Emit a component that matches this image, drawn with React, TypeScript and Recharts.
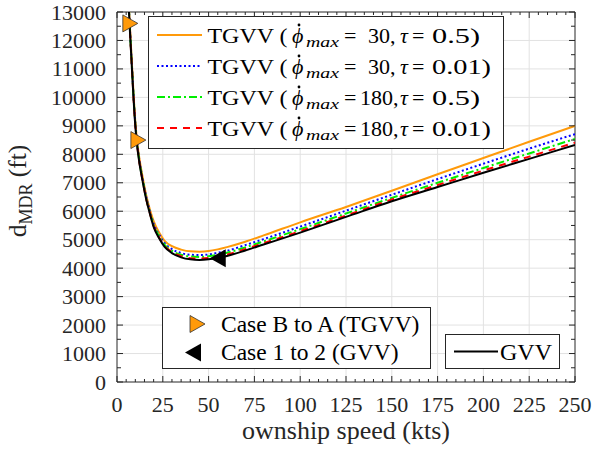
import { ComposedChart, Line, XAxis, YAxis, ReferenceLine } from 'recharts';

// ownship speed (kts)
const speed = [6, 7, 8, 9, 10, 11, 12, 14, 16, 18, 20, 23, 26, 30, 35, 40, 45, 50, 55, 60, 70, 80, 100, 125, 150, 175, 200, 225, 250];

// d_MDR (ft) per case
const tgvv30_05 = [13800, 12550, 11350, 10150, 9150, 8450, 7950, 7200, 6550, 6050, 5650, 5250, 4960, 4770, 4650, 4590, 4580, 4600, 4660, 4740, 4930, 5150, 5610, 6150, 6720, 7300, 7870, 8440, 9000];
const tgvv30_001 = [13750, 12480, 11280, 10080, 9080, 8390, 7890, 7130, 6490, 5990, 5560, 5170, 4880, 4670, 4530, 4470, 4460, 4480, 4540, 4610, 4810, 5020, 5460, 6020, 6580, 7130, 7670, 8200, 8710];
const tgvv180_05 = [13720, 12450, 11250, 10050, 9050, 8360, 7850, 7100, 6450, 5950, 5510, 5120, 4820, 4610, 4470, 4410, 4395, 4420, 4470, 4540, 4730, 4940, 5370, 5920, 6470, 7000, 7520, 8030, 8540];
const tgvv180_001 = [13700, 12420, 11220, 10020, 9020, 8330, 7820, 7070, 6420, 5920, 5480, 5080, 4780, 4570, 4420, 4350, 4340, 4360, 4410, 4480, 4670, 4880, 5300, 5850, 6410, 6920, 7430, 7920, 8410];
const gvv = [13700, 12400, 11200, 10000, 9000, 8300, 7800, 7050, 6400, 5900, 5450, 5050, 4750, 4530, 4380, 4310, 4290, 4310, 4360, 4430, 4620, 4830, 5250, 5800, 6350, 6850, 7350, 7840, 8330];

// marked cases
const caseBASpeed = [7, 11.4];
const caseBAValue = [12600, 8500];
const case12Speed = [55];
const case12Value = [4350];

// TGVV legend parts
const phiMax = ['30,', '30,', '180,', '180,'];
const tau = ['0.5)', '0.01)', '0.5)', '0.01)'];

const xMajor = [0, 25, 50, 75, 100, 125, 150, 175, 200, 225, 250];
const yMajor = [0, 1000, 2000, 3000, 4000, 5000, 6000, 7000, 8000, 9000, 10000, 11000, 12000, 13000];
const xTicks = Array.from({ length: 51 }, (_, i) => i * 5);
const yTicks = Array.from({ length: 27 }, (_, i) => i * 500);

const W = 594;
const H = 455;
const Y_AXIS_W = 117;
const X_AXIS_H = 73;
const MARGIN = { top: 12, right: 19, bottom: 0, left: 0 };
const PLOT_W = W - MARGIN.right - Y_AXIS_W;
const PLOT_H = H - MARGIN.top - X_AXIS_H;
const AXIS = '#262626';
const GRID = '#e2e2e2';
const FONT = "'Liberation Serif', 'DejaVu Serif', serif";
const ORANGE = '#ff9a0a';

// TGVV cases first, GVV drawn last (on top)
const series = [
  { key: 't30_05', values: tgvv30_05, color: ORANGE, dash: undefined },
  { key: 't30_001', values: tgvv30_001, color: '#0000ff', dash: '2 2.5' },
  { key: 't180_05', values: tgvv180_05, color: '#00ee00', dash: '8 3 2 3' },
  { key: 't180_001', values: tgvv180_001, color: '#ff0000', dash: '7 6' },
  { key: 'gvv', values: gvv, color: '#000000', dash: undefined },
];

const data = speed.map((s, i) => {
  const row: any = { speed: s };
  series.forEach((sr) => (row[sr.key] = sr.values[i]));
  return row;
});
const caseBA = caseBASpeed.map((s, i) => ({ speed: s, mark: caseBAValue[i] }));
const case12 = case12Speed.map((s, i) => ({ speed: s, mark: case12Value[i] }));

const rightTri = (cx: number, cy: number) => `M${cx - 7},${cy - 8.5} L${cx + 8},${cy} L${cx - 7},${cy + 8.5} Z`;
const leftTri = (cx: number, cy: number) => `M${cx + 8},${cy - 9} L${cx - 8},${cy} L${cx + 8},${cy + 9} Z`;

const XTick = (props: any) => {
  const { x, y, payload } = props;
  const v = payload.value;
  const major = v % 25 === 0;
  const len = major ? 6 : 3;
  return (
    <g>
      <line x1={x} x2={x} y1={y} y2={y - len} stroke={AXIS} />
      <line x1={x} x2={x} y1={y - PLOT_H} y2={y - PLOT_H + len} stroke={AXIS} />
      {major && (
        <text x={x} y={y + 30} textAnchor="middle" fontSize={22} style={{ fontFamily: FONT }} fill={AXIS}>
          {v}
        </text>
      )}
    </g>
  );
};

const YTick = (props: any) => {
  const { x, y, payload } = props;
  const v = payload.value;
  const major = v % 1000 === 0;
  const len = major ? 6 : 4;
  return (
    <g>
      <line x1={x} x2={x + len} y1={y} y2={y} stroke={AXIS} />
      <line x1={x + PLOT_W} x2={x + PLOT_W - len} y1={y} y2={y} stroke={AXIS} />
      {major && (
        <text x={x - 11} y={y + 7.5} textAnchor="end" fontSize={22} style={{ fontFamily: FONT }} fill={AXIS}>
          {v}
        </text>
      )}
    </g>
  );
};

function Legends() {
  const rows = [
    { color: ORANGE, dash: undefined },
    { color: '#0000ff', dash: '2 2.5' },
    { color: '#00ee00', dash: '8 3 2 3' },
    { color: '#ff0000', dash: '7 6' },
  ];
  return (
    <svg width={W} height={H} style={{ position: 'absolute', left: 0, top: 0, pointerEvents: 'none', fontFamily: FONT }}>
      <rect x={148.5} y={16.5} width={355} height={132} fill="#fff" stroke={AXIS} />
      {rows.map((r, i) => {
        const cy = 35 + i * 31;
        const base = cy + 7.5;
        const big = phiMax[i].length > 3;
        return (
          <g key={i} fill="#000">
            <line x1={157} x2={202} y1={cy} y2={cy} stroke={r.color} strokeWidth={2} strokeDasharray={r.dash} />
            <text x={207.5} y={base} fontSize={22} textLength={80} lengthAdjust="spacingAndGlyphs">TGVV (</text>
            <text x={292} y={base} fontSize={22} fontStyle="italic">{'\u03d5'}</text>
            <circle cx={299} cy={cy - 10} r={1.4} />
            <text x={306} y={base + 4.5} fontSize={15} fontStyle="italic" textLength={33} lengthAdjust="spacingAndGlyphs">max</text>
            <text x={344} y={base} fontSize={22}>=</text>
            <text x={big ? 360 : 368} y={base} fontSize={22}>{phiMax[i]}</text>
            <text x={400} y={base} fontSize={22} fontStyle="italic">τ</text>
            <text x={412} y={base} fontSize={22}>=</text>
            <text x={432} y={base} fontSize={22} textLength={tau[i].length > 4 ? 59 : 48} lengthAdjust="spacingAndGlyphs">{tau[i]}</text>
          </g>
        );
      })}
      <rect x={162.5} y={307.5} width={268} height={61} fill="#fff" stroke={AXIS} />
      <path d={rightTri(197, 324)} fill={ORANGE} stroke="#333" strokeWidth={0.8} />
      <text x={221} y={324 + 7.8} fontSize={23.5} fill="#000">Case B to A (TGVV)</text>
      <path d={leftTri(193, 352.5)} fill="#000" />
      <text x={221} y={352.5 + 7.8} fontSize={23.5} fill="#000">Case 1 to 2 (GVV)</text>
      <rect x={445.5} y={334.5} width={114} height={34} fill="#fff" stroke={AXIS} />
      <line x1={454} x2={498} y1={351.5} y2={351.5} stroke="#000" strokeWidth={2} />
      <text x={500} y={351.5 + 8} fontSize={24} fill="#000">GVV</text>
    </svg>
  );
}

export default function App() {
  return (
    <div style={{ position: 'absolute', left: 0, top: 0, width: W, height: H, background: '#fff', fontFamily: FONT }}>
      <ComposedChart width={W} height={H} data={data} margin={MARGIN}>
        {xMajor.slice(1, -1).map((v) => (
          <ReferenceLine key={`gx${v}`} x={v} stroke={GRID} strokeWidth={1} />
        ))}
        {yMajor.slice(1, -1).map((v) => (
          <ReferenceLine key={`gy${v}`} y={v} stroke={GRID} strokeWidth={1} />
        ))}
        <ReferenceLine x={250} stroke={AXIS} strokeWidth={1} />
        <ReferenceLine y={13000} stroke={AXIS} strokeWidth={1} />
        <XAxis
          dataKey="speed"
          type="number"
          domain={[0, 250]}
          ticks={xTicks}
          interval={0}
          allowDataOverflow
          height={X_AXIS_H}
          tickSize={0}
          tickMargin={0}
          tickLine={false}
          tick={<XTick />}
          axisLine={{ stroke: AXIS }}
          label={{
            content: (p: any) => {
              const vb = p.viewBox;
              return (
                <text x={vb.x + vb.width / 2} y={vb.y + 57} textAnchor="middle" fontSize={26} style={{ fontFamily: FONT }} fill={AXIS}>
                  ownship speed (kts)
                </text>
              );
            },
          }}
        />
        <YAxis
          type="number"
          domain={[0, 13000]}
          ticks={yTicks}
          interval={0}
          allowDataOverflow
          width={Y_AXIS_W}
          tickSize={0}
          tickMargin={0}
          tickLine={false}
          tick={<YTick />}
          axisLine={{ stroke: AXIS }}
          label={{
            content: (p: any) => {
              const vb = p.viewBox;
              const cx = vb.x + 26;
              const cy = vb.y + vb.height / 2 - 6;
              return (
                <text x={cx} y={cy} transform={`rotate(-90 ${cx} ${cy})`} textAnchor="middle" fontSize={25.5} style={{ fontFamily: FONT }} fill={AXIS}>
                  d<tspan fontSize={18} dy={6}>MDR</tspan>
                  <tspan dy={-6}> (ft)</tspan>
                </text>
              );
            },
          }}
        />
        {series.map((s) => (
          <Line
            key={s.key}
            dataKey={s.key}
            type="monotone"
            stroke={s.color}
            strokeWidth={2}
            strokeDasharray={s.dash}
            dot={false}
            activeDot={false}
            isAnimationActive={false}
          />
        ))}
        <Line
          data={caseBA}
          dataKey="mark"
          stroke="none"
          isAnimationActive={false}
          activeDot={false}
          dot={(p: any) => <path key={`ba${p.index}`} d={rightTri(p.cx, p.cy)} fill={ORANGE} stroke="#333" strokeWidth={0.8} />}
        />
        <Line
          data={case12}
          dataKey="mark"
          stroke="none"
          isAnimationActive={false}
          activeDot={false}
          dot={(p: any) => <path key={`c12${p.index}`} d={leftTri(p.cx, p.cy)} fill="#000" />}
        />
      </ComposedChart>
      <Legends />
    </div>
  );
}
